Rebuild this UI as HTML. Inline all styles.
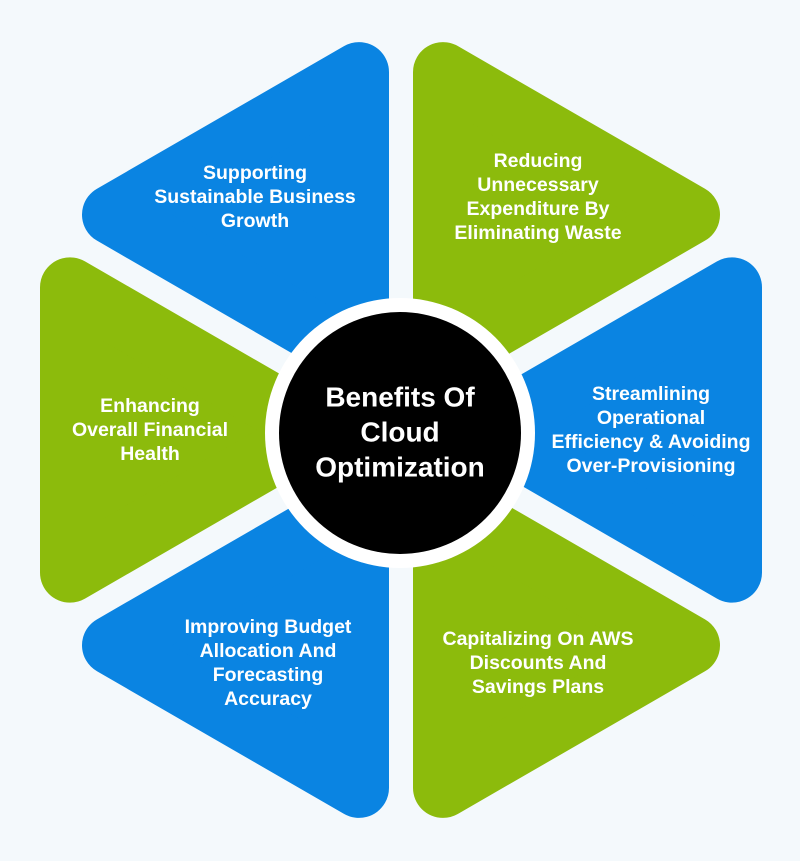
<!DOCTYPE html>
<html><head><meta charset="utf-8"><style>
html,body{margin:0;padding:0;background:#f4f9fc;}
svg{display:block;}
text{font-family:"Liberation Sans",Arial,sans-serif;font-weight:bold;fill:#fff;text-anchor:middle;dominant-baseline:central;}
.s{font-size:19.5px;}
.c{font-size:28px;}
</style></head><body>
<svg width="800" height="861" viewBox="0 0 800 861" xmlns="http://www.w3.org/2000/svg">
<rect width="800" height="861" fill="#f4f9fc"/>
<g stroke-linejoin="round" stroke-width="60">
<polygon points="485,430 732,572.6 732,287.4" fill="#0a84e2" stroke="#0a84e2"/>
<polygon points="443,502.7 443,787.9 690,645.3" fill="#8cbb0c" stroke="#8cbb0c"/>
<polygon points="359,502.7 112,645.3 359,787.9" fill="#0a84e2" stroke="#0a84e2"/>
<polygon points="317,430 70,287.4 70,572.6" fill="#8cbb0c" stroke="#8cbb0c"/>
<polygon points="359,357.3 359,72.1 112,214.7" fill="#0a84e2" stroke="#0a84e2"/>
<polygon points="443,357.3 690,214.7 443,72.1" fill="#8cbb0c" stroke="#8cbb0c"/>
</g>
<circle cx="400" cy="433" r="135" fill="#ffffff"/>
<circle cx="400" cy="433" r="121" fill="#000000"/>
<text class="c" x="400" y="397">Benefits Of</text>
<text class="c" x="400" y="432">Cloud</text>
<text class="c" x="400" y="467">Optimization</text>

<text class="s" x="255" y="173">Supporting</text>
<text class="s" x="255" y="197">Sustainable Business</text>
<text class="s" x="255" y="221">Growth</text>

<text class="s" x="538" y="161">Reducing</text>
<text class="s" x="538" y="185">Unnecessary</text>
<text class="s" x="538" y="209">Expenditure By</text>
<text class="s" x="538" y="233">Eliminating Waste</text>

<text class="s" x="651" y="394">Streamlining</text>
<text class="s" x="651" y="418">Operational</text>
<text class="s" x="651" y="442">Efficiency &amp; Avoiding</text>
<text class="s" x="651" y="466">Over-Provisioning</text>

<text class="s" x="150" y="406">Enhancing</text>
<text class="s" x="150" y="430">Overall Financial</text>
<text class="s" x="150" y="454">Health</text>

<text class="s" x="268" y="627">Improving Budget</text>
<text class="s" x="268" y="651">Allocation And</text>
<text class="s" x="268" y="675">Forecasting</text>
<text class="s" x="268" y="699">Accuracy</text>

<text class="s" x="538" y="639">Capitalizing On AWS</text>
<text class="s" x="538" y="663">Discounts And</text>
<text class="s" x="538" y="687">Savings Plans</text>
</svg>
</body></html>
